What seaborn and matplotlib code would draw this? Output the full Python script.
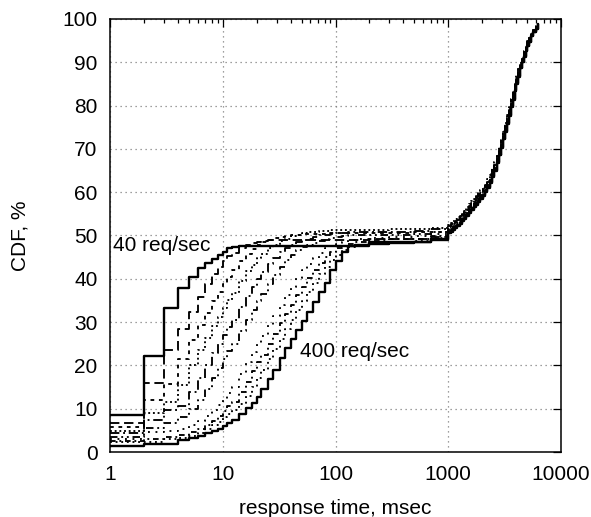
import numpy as np
import pandas as pd
import matplotlib
matplotlib.use("Agg")
import matplotlib.pyplot as plt
import seaborn as sns
from matplotlib.ticker import FixedLocator, NullFormatter, FixedFormatter

# ---------------- data ----------------
series_names = ["40", "80", "120", "160", "200", "240", "280", "320", "360", "400"]

head_x = [1, 2, 3, 4, 5, 6, 7, 8, 9, 10, 11, 12, 14, 16, 18, 20, 22, 25, 28, 32, 36,
          40, 45, 50, 56, 63, 71, 80, 90, 100, 115, 130, 150, 200, 300, 500, 700]
tail_x = [1000, 1050, 1100, 1150, 1200, 1260, 1320, 1380, 1450, 1520, 1600, 1680, 1760,
          1840, 1930, 2020, 2120, 2220, 2330, 2440, 2560, 2680, 2800, 2920, 3050, 3170,
          3300, 3440, 3580, 3720, 3870, 4020, 4180, 4340, 4500, 4670, 4850, 5040, 5250,
          5470, 5700, 5990, 6300]

head_40 = [8.5, 22.2, 33.2, 37.9, 40.5, 42.4, 43.6, 44.6, 45.5, 46.3, 47.0, 47.4, 47.6, 47.6, 47.6, 47.6, 47.6, 47.6, 47.6, 47.6, 47.6,
           47.6, 47.6, 47.6, 47.6, 47.6, 47.6, 47.6, 47.6, 47.6, 47.6, 47.6, 47.6, 48.6, 48.6, 48.6, 49.3]
head_80 = [6.6, 15.9, 23.5, 28.5, 32.4, 35.9, 38.7, 41.0, 42.8, 44.2, 45.2, 46.0, 47.2, 47.8, 48.2, 48.5, 48.7, 48.9, 48.9, 49.0, 49.0,
           49.0, 49.0, 49.0, 49.0, 49.0, 49.0, 49.0, 49.0, 49.0, 49.0, 49.0, 49.0, 49.1, 49.2, 49.3, 49.6]
head_120 = [5.8, 12.0, 15.8, 21.5, 25.8, 29.3, 32.2, 34.8, 37.0, 38.9, 40.5, 42.0, 44.2, 45.8, 46.9, 47.8, 48.4, 49.0, 49.4, 49.7, 49.9,
            50.1, 50.2, 50.3, 50.3, 50.4, 50.4, 50.4, 50.5, 50.5, 50.5, 50.5, 50.5, 50.5, 50.6, 50.7, 50.9]
head_160 = [4.8, 8.9, 11.5, 15.5, 20.0, 23.5, 26.4, 29.0, 31.2, 33.2, 35.0, 36.7, 39.5, 41.7, 43.3, 44.7, 45.8, 47.0, 47.9, 48.7, 49.3,
            49.8, 50.2, 50.5, 50.7, 50.9, 51.0, 51.1, 51.2, 51.2, 51.3, 51.3, 51.3, 51.3, 51.4, 51.5, 51.8]
head_200 = [4.3, 7.5, 9.7, 10.7, 13.8, 17.1, 20.2, 22.8, 25.0, 27.0, 28.8, 30.5, 33.4, 36.0, 38.2, 40.0, 41.5, 43.4, 44.8, 46.1, 47.1,
            47.8, 48.4, 48.9, 49.3, 49.7, 50.0, 50.2, 50.4, 50.5, 50.6, 50.7, 50.7, 50.8, 50.8, 51.0, 51.4]
head_240 = [3.5, 5.5, 6.7, 8.0, 10.0, 12.0, 14.6, 17.1, 19.4, 21.5, 23.3, 25.0, 28.0, 30.5, 32.7, 34.8, 36.6, 38.9, 40.8, 42.8, 44.3,
            45.5, 46.6, 47.3, 47.8, 48.3, 48.8, 49.2, 49.5, 49.7, 49.9, 50.0, 50.1, 50.2, 50.2, 50.4, 50.9]
head_280 = [3.0, 4.7, 4.9, 5.4, 6.2, 7.2, 8.4, 9.6, 10.8, 12.0, 13.6, 15.1, 18.1, 20.7, 23.0, 25.0, 26.8, 29.3, 31.4, 34.0, 36.2,
            38.2, 40.2, 42.0, 43.4, 44.9, 46.0, 47.0, 47.6, 48.1, 48.6, 48.9, 49.2, 49.5, 49.7, 49.9, 50.4]
head_320 = [2.6, 2.9, 3.5, 4.0, 4.6, 5.3, 6.3, 7.2, 8.3, 9.5, 10.6, 11.5, 13.9, 16.2, 18.6, 20.7, 22.5, 25.0, 27.2, 29.7, 31.9,
            34.0, 36.2, 38.2, 40.1, 42.0, 43.6, 45.1, 46.2, 47.0, 47.6, 48.1, 48.5, 48.9, 49.1, 49.3, 49.9]
head_360 = [2.2, 2.4, 2.9, 3.3, 3.8, 4.5, 5.2, 6.2, 7.0, 8.0, 8.8, 9.6, 11.2, 13.0, 15.1, 17.1, 19.0, 21.5, 23.7, 26.2, 28.5,
            30.5, 32.7, 34.8, 36.9, 39.0, 41.0, 42.8, 44.3, 45.5, 46.6, 47.3, 47.8, 48.3, 48.6, 48.8, 49.5]
head_400 = [1.5, 1.8, 1.8, 2.8, 3.3, 3.8, 4.4, 4.9, 5.3, 5.9, 6.6, 7.3, 8.7, 10.1, 11.4, 12.8, 14.5, 16.8, 19.0, 21.7, 24.0,
            26.0, 28.2, 30.2, 32.4, 34.6, 36.9, 39.1, 42.0, 44.2, 46.3, 47.5, 47.9, 48.1, 48.2, 48.4, 49.0]

tail_40 = [50.5, 50.9, 51.3, 51.7, 52.2, 52.7, 53.3, 53.9, 54.5, 55.2, 55.9, 56.5, 57.1, 57.8, 58.4, 59.2, 60.0, 61.0, 62.2, 63.5, 65.0,
           66.7, 68.5, 70.3, 72.2, 74.0, 75.8, 77.7, 79.6, 81.4, 83.3, 85.0, 86.7, 88.6, 90.0, 91.3, 92.5, 93.7, 94.7, 96.0, 96.9, 97.7, 98.8]
tail_80 = [51.0, 51.4, 51.8, 52.2, 52.7, 53.2, 53.8, 54.4, 55.0, 55.7, 56.4, 57.0, 57.6, 58.3, 58.9, 59.7, 60.5, 61.5, 62.7, 64.0, 65.5,
           67.2, 69.0, 70.8, 72.7, 74.5, 76.3, 78.2, 80.1, 81.9, 83.8, 85.5, 87.2, 88.9, 90.3, 91.6, 92.8, 94.0, 95.0, 96.2, 97.1, 97.9, 98.8]
tail_120 = [52.0, 52.4, 52.8, 53.2, 53.7, 54.2, 54.8, 55.4, 56.0, 56.7, 57.4, 58.0, 58.6, 59.3, 59.9, 60.7, 61.5, 62.5, 63.7, 65.0, 66.5,
            68.2, 70.0, 71.8, 73.7, 75.5, 77.3, 79.2, 81.1, 82.9, 84.8, 86.5, 88.2, 89.5, 90.9, 92.2, 93.4, 94.6, 95.6, 96.5, 97.4, 98.2, 98.8]
tail_160 = [52.5, 52.9, 53.3, 53.7, 54.2, 54.7, 55.3, 55.9, 56.5, 57.2, 57.9, 58.5, 59.1, 59.8, 60.4, 61.2, 62.0, 63.0, 64.2, 65.5, 67.0,
            68.7, 70.5, 72.3, 74.2, 76.0, 77.8, 79.7, 81.6, 83.4, 85.3, 87.0, 88.7, 89.8, 91.2, 92.5, 93.7, 94.9, 95.9, 96.6, 97.5, 98.3, 98.8]
tail_200 = [52.2, 52.6, 53.0, 53.4, 53.9, 54.4, 55.0, 55.6, 56.2, 56.9, 57.6, 58.2, 58.8, 59.5, 60.1, 60.9, 61.7, 62.7, 63.9, 65.2, 66.7,
            68.4, 70.2, 72.0, 73.9, 75.7, 77.5, 79.4, 81.3, 83.1, 85.0, 86.7, 88.4, 89.6, 91.0, 92.3, 93.5, 94.7, 95.7, 96.5, 97.4, 98.2, 98.8]
tail_240 = [51.8, 52.2, 52.6, 53.0, 53.5, 54.0, 54.6, 55.2, 55.8, 56.5, 57.2, 57.8, 58.4, 59.1, 59.7, 60.5, 61.3, 62.3, 63.5, 64.8, 66.3,
            68.0, 69.8, 71.6, 73.5, 75.3, 77.1, 79.0, 80.9, 82.7, 84.6, 86.3, 88.0, 89.4, 90.8, 92.1, 93.3, 94.5, 95.5, 96.4, 97.3, 98.1, 98.8]
tail_280 = [51.5, 51.9, 52.3, 52.7, 53.2, 53.7, 54.3, 54.9, 55.5, 56.2, 56.9, 57.5, 58.1, 58.8, 59.4, 60.2, 61.0, 62.0, 63.2, 64.5, 66.0,
            67.7, 69.5, 71.3, 73.2, 75.0, 76.8, 78.7, 80.6, 82.4, 84.3, 86.0, 87.7, 89.2, 90.6, 91.9, 93.1, 94.3, 95.3, 96.3, 97.2, 98.0, 98.8]
tail_320 = [51.2, 51.6, 52.0, 52.4, 52.9, 53.4, 54.0, 54.6, 55.2, 55.9, 56.6, 57.2, 57.8, 58.5, 59.1, 59.9, 60.7, 61.7, 62.9, 64.2, 65.7,
            67.4, 69.2, 71.0, 72.9, 74.7, 76.5, 78.4, 80.3, 82.1, 84.0, 85.7, 87.4, 89.0, 90.4, 91.7, 92.9, 94.1, 95.1, 96.2, 97.1, 97.9, 98.8]
tail_360 = [50.9, 51.3, 51.7, 52.1, 52.6, 53.1, 53.7, 54.3, 54.9, 55.6, 56.3, 56.9, 57.5, 58.2, 58.8, 59.6, 60.4, 61.4, 62.6, 63.9, 65.4,
            67.1, 68.9, 70.7, 72.6, 74.4, 76.2, 78.1, 80.0, 81.8, 83.7, 85.4, 87.1, 88.8, 90.2, 91.5, 92.7, 93.9, 94.9, 96.1, 97.0, 97.8, 98.8]
tail_400 = [50.7, 51.1, 51.5, 51.9, 52.4, 52.9, 53.5, 54.1, 54.7, 55.4, 56.1, 56.7, 57.3, 58.0, 58.6, 59.4, 60.2, 61.2, 62.4, 63.7, 65.2,
            66.9, 68.7, 70.5, 72.4, 74.2, 76.0, 77.9, 79.8, 81.6, 83.5, 85.2, 86.9, 88.7, 90.1, 91.4, 92.6, 93.8, 94.8, 96.1, 97.0, 97.8, 98.8]

heads = [head_40, head_80, head_120, head_160, head_200, head_240, head_280, head_320, head_360, head_400]
tails = [tail_40, tail_80, tail_120, tail_160, tail_200, tail_240, tail_280, tail_320, tail_360, tail_400]

x_ticks = [1, 10, 100, 1000, 10000]
x_tick_labels = ["1", "10", "100", "1000", "10000"]
y_ticks = list(range(0, 101, 10))

# ---------------- style ----------------
line_styles = ["-", (0, (5, 2.5)), (0, (2, 2.5)), (0, (1, 1.5)), (0, (5, 2, 1, 2)),
               (0, (4, 2, 1, 2, 1, 2)), (0, (1, 3)), (0, (3, 2, 1, 2)), (0, (1, 2)), "-"]
line_widths = [1.7, 1.35, 1.35, 1.35, 1.35, 1.35, 1.35, 1.35, 1.35, 1.7]

sns.set_theme(style="white")
plt.rcParams["font.family"] = ["Liberation Sans", "DejaVu Sans"]

fig = plt.figure(figsize=(5.91, 5.17), dpi=100)
ax = fig.add_axes([110 / 591, 1 - 452 / 517, (561 - 110) / 591, (452 - 19) / 517])

rows = []
for name, h, t in zip(series_names, heads, tails):
    xs = head_x + tail_x
    ys = h + t
    for xv, yv in zip(xs, ys):
        rows.append({"series": name, "time": xv, "cdf": yv})
df = pd.DataFrame(rows)

for name, ls, lw in zip(series_names, line_styles, line_widths):
    sub = df[df["series"] == name]
    sns.lineplot(data=sub, x="time", y="cdf", ax=ax, color="black", linestyle=ls,
                 linewidth=lw, drawstyle="steps-post", estimator=None, sort=True,
                 legend=False)

ax.set_xscale("log")
ax.set_xlim(1, 10000)
ax.set_ylim(0, 100)

ax.xaxis.set_major_locator(FixedLocator(x_ticks))
ax.xaxis.set_major_formatter(FixedFormatter(x_tick_labels))
minor = [m * 10 ** e for e in range(0, 4) for m in range(2, 10)]
ax.xaxis.set_minor_locator(FixedLocator(minor))
ax.xaxis.set_minor_formatter(NullFormatter())
ax.set_yticks(y_ticks)
ax.set_yticklabels([str(v) for v in y_ticks])

ax.grid(True, which="major", color="#808080", linestyle=(0, (1, 3)), linewidth=0.9)
ax.tick_params(axis="both", which="both", direction="in", top=True, right=True,
               colors="black", labelsize=15)
ax.tick_params(axis="x", which="major", pad=9)
ax.tick_params(axis="y", which="major", pad=9)
ax.tick_params(axis="both", which="major", length=6, width=0.9)
ax.tick_params(axis="x", which="minor", length=3, width=0.9)
ax.tick_params(axis="y", which="minor", left=False, right=False)
for s in ax.spines.values():
    s.set_color("black")
    s.set_linewidth(1.1)

ax.set_xlabel("response time, msec", fontsize=15, labelpad=11, color="black")
ax.set_ylabel("CDF, %", fontsize=15, labelpad=24, color="black")

ax.text(1.06, 47.6, "40 req/sec", fontsize=15, va="center", ha="left", color="black")
ax.text(48, 23.3, "400 req/sec", fontsize=15, va="center", ha="left", color="black")

fig.savefig("out.png", dpi=100)
